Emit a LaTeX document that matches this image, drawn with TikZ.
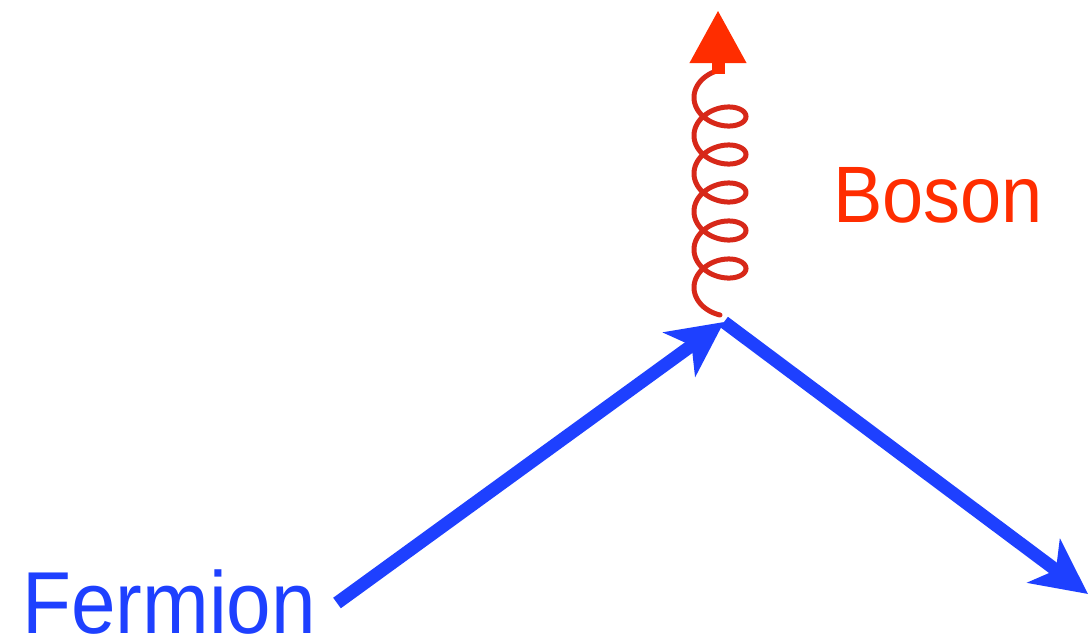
\documentclass[tikz,border=0pt]{standalone}
\usepackage{fontspec}
\setmainfont{Liberation Sans}
\usetikzlibrary{arrows.meta}
\definecolor{fblue}{RGB}{30,64,255}
\definecolor{bred}{RGB}{255,45,0}
\definecolor{coilred}{RGB}{215,40,25}
\begin{document}
\begin{tikzpicture}[x=1pt,y=-1pt,
  fermionline/.style={fblue, line width=13pt, -{Stealth[length=55pt,width=54pt,inset=15pt]}},
  gluonline/.style={coilred, line width=5pt, line cap=round},
  bosontip/.style={bred, line width=13pt, -{Triangle[length=53pt,width=53pt]}},
  lbl/.style={inner sep=0pt, anchor=base west, text depth=0pt}]
\useasboundingbox (0,0) rectangle (1089,643);
\coordinate (v) at (724,322);
\coordinate (in) at (337,603);
\coordinate (out) at (1088,594);
\coordinate (gtop) at (718,74);
\coordinate (gtip) at (718,10);
\draw[fermionline] (in) -- (v);
\draw[fermionline] (v) -- (out);
\draw[gluonline] plot[domain=90:2070, samples=600, variable=\t]
  ({720+26*cos(\t)}, {306.5-(\t/360)*38+18*sin(\t)});
\draw[bosontip] (gtop) -- (gtip);
\node[lbl, fblue, font=\fontsize{88}{88}\selectfont] (fermion) at (22,633) {\scalebox{0.91}[1]{Fermion}};
\node[lbl, bred, font=\fontsize{80}{80}\selectfont] (boson) at (833,222) {\scalebox{0.925}[1]{Boson}};
\end{tikzpicture}
\end{document}
